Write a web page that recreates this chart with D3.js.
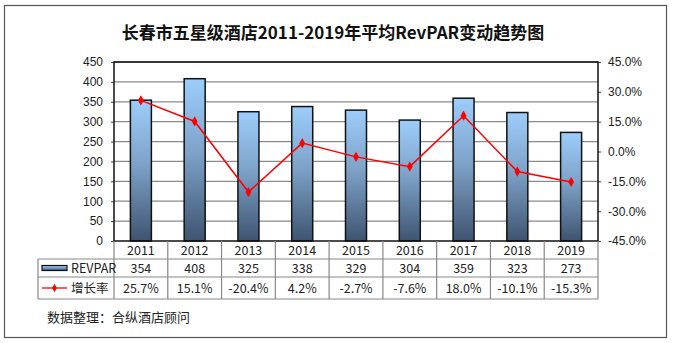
<!DOCTYPE html>
<html><head><meta charset="utf-8">
<script src="https://cdn.jsdelivr.net/npm/d3@7"></script>
<style>body{margin:0;background:#fff}</style>
</head><body>
<svg id="c" width="673" height="343"></svg>
<script>
const years = ["2011","2012","2013","2014","2015","2016","2017","2018","2019"];
const revpar = [354,408,325,338,329,304,359,323,273];
const growth = [25.7,15.1,-20.4,4.2,-2.7,-7.6,18.0,-10.1,-15.3];
const growthLabels = ["25.7%","15.1%","-20.4%","4.2%","-2.7%","-7.6%","18.0%","-10.1%","-15.3%"];
const leftTicks = [0,50,100,150,200,250,300,350,400,450];
const rightTicks = [-45,-30,-15,0,15,30,45];
const title = "长春市五星级酒店2011-2019年平均RevPAR变动趋势图";
const source = "数据整理：合纵酒店顾问";

const svg = d3.select("#c");
const L=114,R=598,T=62,B=241;
const fontNum = "Arial, 'Liberation Sans', sans-serif";
const fontCJK = "'Noto Sans CJK SC', sans-serif";

const defs = svg.append("defs");
const g1 = defs.append("linearGradient").attr("id","bg").attr("x1",0).attr("y1",0).attr("x2",0).attr("y2",1);
g1.append("stop").attr("offset","0%").attr("stop-color","#9dcdfb");
g1.append("stop").attr("offset","45%").attr("stop-color","#7ea3c9");
g1.append("stop").attr("offset","100%").attr("stop-color","#3e5470");

// outer frame
svg.append("rect").attr("x",4.5).attr("y",5.5).attr("width",662).attr("height",332)
  .attr("fill","#fff").attr("stroke","#555").attr("stroke-width",1.2);

svg.append("text").attr("x",333).attr("y",39).attr("text-anchor","middle")
  .attr("font-family",fontCJK).attr("font-weight","bold").attr("font-size",17).attr("fill","#111").text(title);

const x = d3.scaleBand().domain(years).range([L,R]);
const y = d3.scaleLinear().domain([0,450]).range([B,T]);
const y2 = d3.scaleLinear().domain([-45,45]).range([B,T]);

// gridlines
svg.append("g").selectAll("line").data(leftTicks.filter(d=>d>0)).join("line")
  .attr("x1",L).attr("x2",R).attr("y1",d=>y(d)).attr("y2",d=>y(d))
  .attr("stroke","#8a8a8a").attr("stroke-width",1.3);

// left axis
const ax = svg.append("g").attr("transform",`translate(${L},0)`)
  .call(d3.axisLeft(y).tickValues(leftTicks).tickSize(3).tickPadding(8));
ax.select(".domain").remove();
ax.selectAll("text").attr("font-family",fontNum).attr("font-size",12).attr("fill","#222");
ax.selectAll("line").attr("stroke","#444");

// right axis
const ax2 = svg.append("g").attr("transform",`translate(${R},0)`)
  .call(d3.axisRight(y2).tickValues(rightTicks).tickSize(3).tickPadding(7).tickFormat(d=>d.toFixed(1)+"%"));
ax2.select(".domain").remove();
ax2.selectAll("text").attr("font-family",fontNum).attr("font-size",12).attr("fill","#222");
ax2.selectAll("line").attr("stroke","#444");

// bars
const bw = 21;
svg.append("g").selectAll("rect").data(revpar).join("rect")
  .attr("x",(d,i)=>x(years[i])+x.bandwidth()/2-bw/2)
  .attr("y",d=>y(d)).attr("width",bw).attr("height",d=>B-y(d))
  .attr("fill","url(#bg)").attr("stroke","#111").attr("stroke-width",1.5);

// plot border
svg.append("rect").attr("x",L).attr("y",T).attr("width",R-L).attr("height",B-T)
  .attr("fill","none").attr("stroke","#111").attr("stroke-width",1.5);

// line
const line = d3.line().x((d,i)=>x(years[i])+x.bandwidth()/2).y(d=>y2(d));
svg.append("path").datum(growth).attr("d",line).attr("fill","none").attr("stroke","#f00").attr("stroke-width",1.5);
svg.append("g").selectAll("path").data(growth).join("path")
  .attr("transform",(d,i)=>`translate(${x(years[i])+x.bandwidth()/2},${y2(d)})`)
  .attr("d",d3.symbol(d3.symbolDiamond,30)).attr("fill","#f00");

// table
const rows=[241,259,277,299];
const tL=38;
const tg = svg.append("g").attr("stroke","#888").attr("stroke-width",1.2);
tg.append("line").attr("x1",tL).attr("x2",R).attr("y1",rows[1]).attr("y2",rows[1]);
tg.append("line").attr("x1",tL).attr("x2",R).attr("y1",rows[2]).attr("y2",rows[2]);
tg.append("line").attr("x1",tL).attr("x2",R).attr("y1",rows[3]).attr("y2",rows[3]);
tg.append("line").attr("x1",tL).attr("x2",tL).attr("y1",rows[1]).attr("y2",rows[3]);
tg.selectAll(".v").data(years.concat(["end"])).join("line")
  .attr("x1",(d,i)=>L+i*x.step()).attr("x2",(d,i)=>L+i*x.step())
  .attr("y1",B).attr("y2",rows[3]);

const cell = (arr,yy)=>svg.append("g").selectAll("text").data(arr).join("text")
  .attr("x",(d,i)=>x(years[i])+x.bandwidth()/2).attr("y",yy).attr("text-anchor","middle")
  .attr("font-family",fontCJK).attr("font-size",12.5).attr("fill","#222").text(d=>d);
cell(years,255);
cell(revpar,273);
cell(growthLabels,293);

// legend in table
svg.append("rect").attr("x",42).attr("y",265.5).attr("width",25).attr("height",5)
  .attr("fill","url(#bg)").attr("stroke","#111").attr("stroke-width",1.2);
svg.append("text").attr("x",71).attr("y",273).attr("font-family",fontCJK).attr("font-size",12.5).attr("fill","#222").text("REVPAR");
svg.append("line").attr("x1",42).attr("x2",67).attr("y1",288).attr("y2",288).attr("stroke","#f00").attr("stroke-width",1.3);
svg.append("path").attr("transform","translate(54.5,288)").attr("d",d3.symbol(d3.symbolDiamond,20)).attr("fill","#f00");
svg.append("text").attr("x",71).attr("y",293).attr("font-family",fontCJK).attr("font-size",12.5).attr("fill","#222").text("增长率");

svg.append("text").attr("x",47).attr("y",322).attr("font-family",fontCJK).attr("font-size",13).attr("fill","#222").text(source);
</script>
</body></html>
